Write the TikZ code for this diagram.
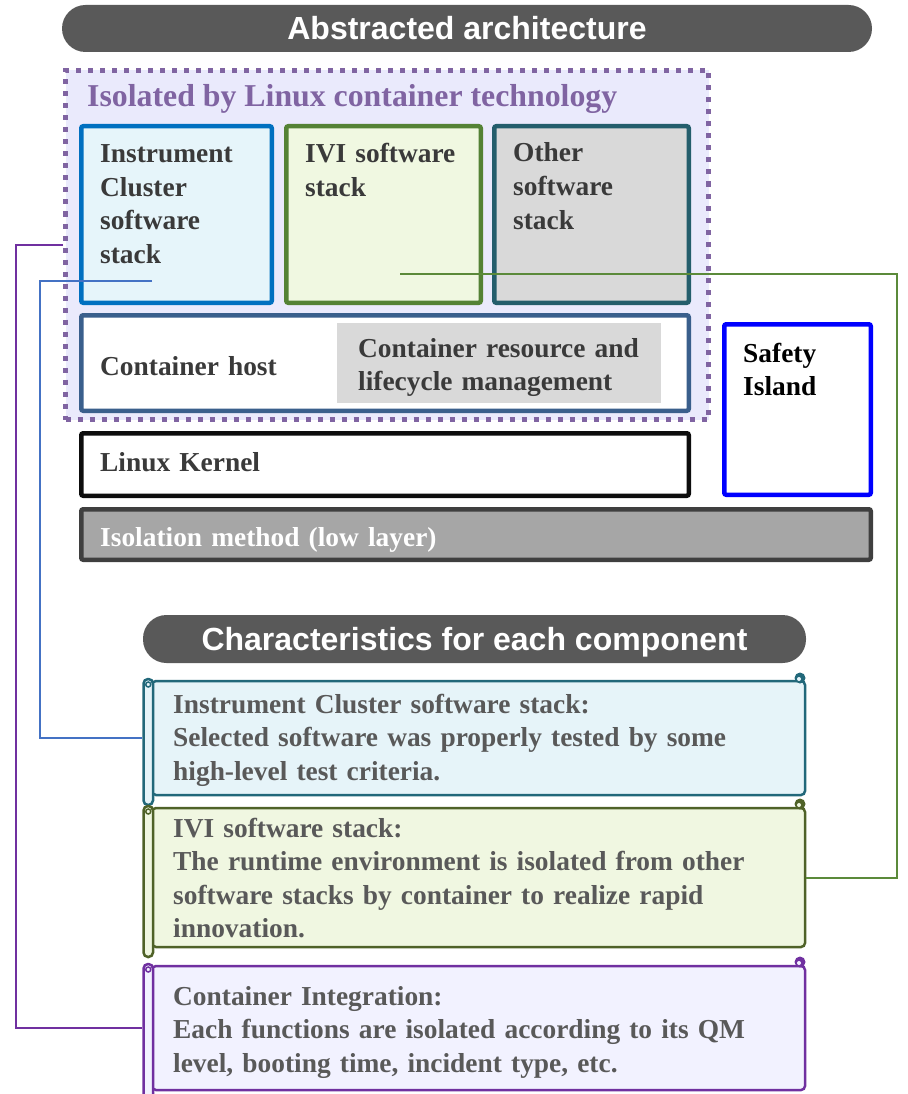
\documentclass[tikz,border=0pt]{standalone}
\usepackage{fontspec}
\setmainfont{Liberation Serif}
\setsansfont{Liberation Sans}
\usetikzlibrary{positioning}

\definecolor{pillgray}{HTML}{595959}
\definecolor{lxcpurple}{HTML}{8064A2}
\definecolor{lxcfill}{RGB}{234,234,252}
\definecolor{icblue}{HTML}{0070C0}
\definecolor{icfill}{RGB}{230,245,250}
\definecolor{ivigreen}{HTML}{548235}
\definecolor{ivifill}{RGB}{240,248,225}
\definecolor{otherteal}{RGB}{36,94,108}
\definecolor{lightgray}{HTML}{D9D9D9}
\definecolor{hostblue}{RGB}{58,95,140}
\definecolor{isogray}{HTML}{A6A6A6}
\definecolor{isoborder}{HTML}{3F3F3F}
\definecolor{labelgray}{HTML}{3A3A3A}
\definecolor{notegray}{HTML}{595959}
\definecolor{icteal}{RGB}{34,104,122}
\definecolor{icnotefill}{RGB}{230,244,249}
\definecolor{iviolive}{HTML}{4F6228}
\definecolor{ivinotefill}{RGB}{240,247,225}
\definecolor{ctpurple}{HTML}{7030A0}
\definecolor{ctnotefill}{RGB}{242,242,255}
\definecolor{linkblue}{HTML}{4472C4}
\definecolor{linkgreen}{HTML}{5B8A3A}

\newcommand\pillfont{\sffamily\bfseries\fontsize{32}{38}\selectfont}
\newcommand\boxfont{\bfseries\fontsize{27.4}{33.5}\selectfont}
\newcommand\lxcfont{\bfseries\fontsize{31.8}{38}\selectfont}

\begin{document}
\begin{tikzpicture}[x=1pt,y=-1pt,
  pill/.style={fill=pillgray, rounded corners=23.5pt, text=white, font=\pillfont, text height=23pt, text depth=0pt, inner sep=0pt},
  layer/.style={draw, line width=4.5pt, rounded corners=2pt, inner sep=0pt},
  lbl/.style={anchor=base west, inner sep=0pt, align=left, text width=640pt, font=\boxfont, text=labelgray},
  note/.style={draw, line width=2.5pt, rounded corners=4pt, inner sep=0pt, minimum width=653pt},
  roll/.style={draw, line width=2.5pt, rounded corners=4.5pt, inner sep=0pt, minimum width=9.5pt},
  link/.style={line width=2pt}]

\useasboundingbox (0,0) rectangle (907,1094);

% abstracted architecture
\node[pill, minimum width=810pt, minimum height=47pt] (archtitle) at (467,28.5) {Abstracted architecture};
\node[layer, draw=lxcpurple, fill=lxcfill, line width=5pt, dash pattern=on 5pt off 7pt, rounded corners=0pt,
      minimum width=643pt, minimum height=349pt] (lxc) at (387,245) {};
\node[anchor=base west, inner sep=0pt, font=\lxcfont, text=lxcpurple] (lxclabel) at (87,107) {Isolated by Linux container technology};

\node[layer, draw=icblue, fill=icfill, minimum width=190.5pt, minimum height=176.5pt] (ic) at (176.5,214.5) {};
\node[layer, draw=ivigreen, fill=ivifill, minimum width=194.5pt, minimum height=176.5pt] (ivi) at (383.5,214.5) {};
\node[layer, draw=otherteal, fill=lightgray, minimum width=194.5pt, minimum height=176.5pt] (other) at (591.5,214.5) {};
\node[lbl] (iclabel) at (100,163) {Instrument\\Cluster\\software\\stack};
\node[lbl] (ivilabel) at (305,163) {IVI software\\stack};
\node[lbl] (otherlabel) at (513,162) {Other\\software\\stack};

\node[layer, draw=hostblue, fill=white, minimum width=607.5pt, minimum height=95.5pt] (host) at (385,363) {};
\node[fill=lightgray, inner sep=0pt, minimum width=324pt, minimum height=80pt] (mgmt) at (499,363) {};
\node[lbl] (hostlabel) at (100,375) {Container host};
\node[lbl] (mgmtlabel) at (358,357) {Container resource and\\lifecycle management};

\node[layer, draw=black!95, fill=white, minimum width=607.5pt, minimum height=62.5pt] (kernel) at (385,464.5) {};
\node[lbl] (kernellabel) at (100,471) {Linux Kernel};
\node[layer, draw=blue, fill=white, minimum width=146.5pt, minimum height=170.5pt] (safety) at (797.5,409.5) {};
\node[lbl, text=black] (safetylabel) at (743,362) {Safety\\Island};
\node[layer, draw=isoborder, fill=isogray, minimum width=789.5pt, minimum height=50.5pt] (iso) at (476,534.5) {};
\node[lbl, text=white] (isolabel) at (100,546) {Isolation method (low layer)};

% characteristics
\node[pill, minimum width=663pt, minimum height=48pt] (chartitle) at (474.5,639) {Characteristics for each component};

\node[note, draw=icteal, fill=icnotefill, minimum height=114pt] (icnote) at (478.5,738) {};
\node[roll, draw=icteal, fill=icnotefill, minimum height=126pt] (icroll) at (148.25,742) {};
\draw[icteal, line width=1.5pt] (148.25,684.5) circle (2.5);
\fill[icteal] (800,678) circle (5.5);
\fill[icnotefill] (799,679) circle (2);
\node[lbl, text=notegray] (icnotelabel) at (173,713)
  {Instrument Cluster software stack:\\Selected software was properly tested by some\\high-level test criteria.};

\node[note, draw=iviolive, fill=ivinotefill, minimum height=139pt] (ivinote) at (478.5,877.5) {};
\node[roll, draw=iviolive, fill=ivinotefill, minimum height=151pt] (iviroll) at (148.25,881.5) {};
\draw[iviolive, line width=1.5pt] (148.25,811.5) circle (2.5);
\fill[iviolive] (800,804) circle (5.5);
\fill[ivinotefill] (799,805) circle (2);
\node[lbl, text=notegray] (ivinotelabel) at (173,837)
  {IVI software stack:\\The runtime environment is isolated from other\\software stacks by container to realize rapid\\innovation.};

\node[note, draw=ctpurple, fill=ctnotefill, minimum height=124pt] (ctnote) at (478.5,1028) {};
\node[roll, draw=ctpurple, fill=ctnotefill, minimum height=146pt] (ctroll) at (148.25,1037) {};
\draw[ctpurple, line width=1.5pt] (148.25,969.5) circle (2.5);
\fill[ctpurple] (800,962) circle (5.5);
\fill[ctnotefill] (799,963) circle (2);
\node[lbl, text=notegray] (ctnotelabel) at (173,1005)
  {Container Integration:\\Each functions are isolated according to its QM\\level, booting time, incident type, etc.};

% links from the stacks to their notes
\coordinate (icpin) at (152,281);
\coordinate (icbend) at (40,281);
\coordinate (ivipin) at (400,274);
\coordinate (ivibend) at (897,274);
\coordinate (ctbend) at (16,245);
\draw[link, linkblue] (icpin) -- (icbend) |- (icnote.west -| icroll.west);
\draw[link, linkgreen] (ivipin) -- (ivibend) |- (ivinote.east);
\draw[link, ctpurple] (lxc.west) -- (ctbend) |- (ctnote.west -| ctroll.west);
\end{tikzpicture}
\end{document}
